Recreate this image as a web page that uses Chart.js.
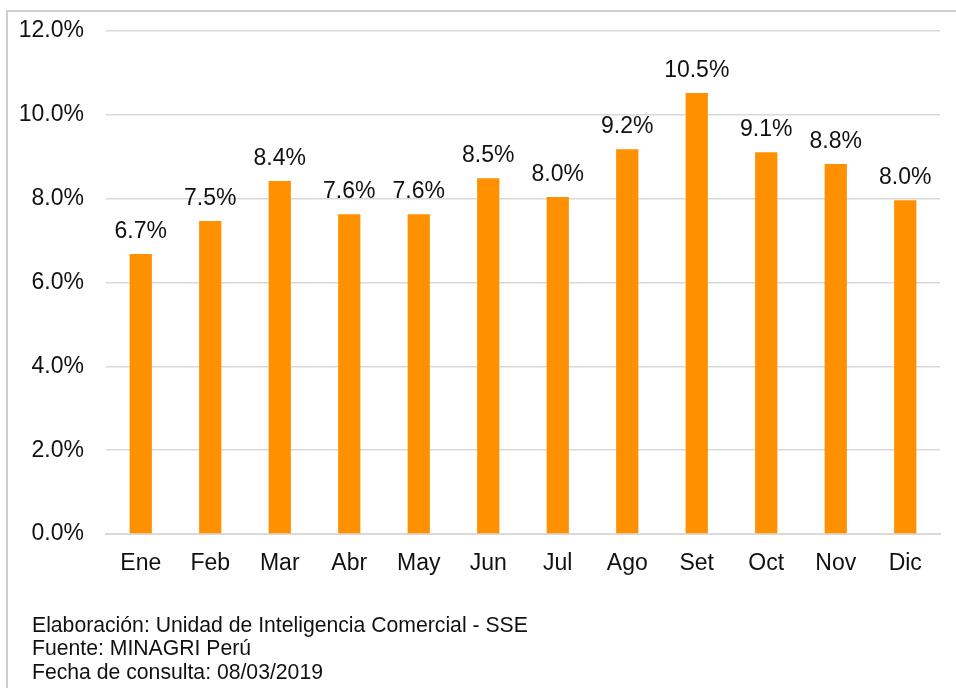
<!DOCTYPE html>
<html>
<head>
<meta charset="utf-8">
<script src="https://cdn.jsdelivr.net/npm/chart.js@4"></script>
<style>
    body { margin: 0; background: #fff; font-family: "Liberation Sans", Arial, sans-serif; }
    #wrap { position: relative; width: 956px; height: 688px; overflow: hidden; }
    #frame { position: absolute; left: 6px; top: 10px; width: 980px; height: 720px; border: 2px solid #cfcfcf; box-sizing: border-box; }
    #chart { position: absolute; left: 0; top: 0; }
    #notes { position: absolute; left: 32px; top: 613px; font-size: 21.2px; line-height: 23.3px; color: #111; }
</style>
</head>
<body>
<div id="wrap">
    <div id="frame"></div>
    <canvas id="chart" width="956" height="688"></canvas>
    <div id="notes">
        <div>Elaboración: Unidad de Inteligencia Comercial - SSE</div>
        <div>Fuente: MINAGRI Perú</div>
        <div>Fecha de consulta: 08/03/2019</div>
    </div>
</div>
<script>
// --- DATA ---
const months = ['Ene', 'Feb', 'Mar', 'Abr', 'May', 'Jun', 'Jul', 'Ago', 'Set', 'Oct', 'Nov', 'Dic'];
const shareValues = [6.68, 7.47, 8.42, 7.63, 7.63, 8.49, 8.04, 9.18, 10.52, 9.11, 8.83, 7.96];
const yTicks = [0, 2, 4, 6, 8, 10, 12];

const FONT = '"Liberation Sans", Arial, sans-serif';
const BAR_COLOR = '#ff9100';

// Value labels above each bar
const valueLabels = {
    id: 'valueLabels',
    afterDatasetsDraw(chart) {
        const ctx = chart.ctx;
        const meta = chart.getDatasetMeta(0);
        ctx.save();
        ctx.font = `23px ${FONT}`;
        ctx.fillStyle = '#111';
        ctx.textAlign = 'center';
        ctx.textBaseline = 'alphabetic';
        meta.data.forEach((bar, i) => {
            ctx.fillText(shareValues[i].toFixed(1) + '%', bar.x, bar.y - 16);
        });
        ctx.restore();
    }
};

new Chart(document.getElementById('chart'), {
    type: 'bar',
    data: {
        labels: months,
        datasets: [{
            data: shareValues,
            backgroundColor: BAR_COLOR,
            borderWidth: 0,
            barPercentage: 0.32,
            categoryPercentage: 1
        }]
    },
    options: {
        responsive: false,
        animation: false,
        layout: { padding: { top: 31, right: 16, bottom: 109, left: 0 } },
        plugins: { legend: { display: false }, tooltip: { enabled: false } },
        scales: {
            x: {
                grid: { display: false, drawTicks: false },
                border: { color: '#d9d9d9', width: 2 },
                ticks: { color: '#111', font: { family: FONT, size: 23 }, padding: 16, maxRotation: 0 },
                afterFit(scale) { scale.height = 45; scale.paddingLeft = 0; scale.paddingRight = 0; }
            },
            y: {
                min: 0,
                max: 12,
                afterBuildTicks(scale) { scale.ticks = yTicks.map(v => ({ value: v })); },
                grid: { color: '#d9d9d9', lineWidth: 1.5, drawTicks: false },
                border: { display: false },
                ticks: {
                    color: '#111',
                    font: { family: FONT, size: 23 },
                    padding: 22,
                    callback: v => v.toFixed(1) + '%'
                },
                afterFit(scale) { scale.width = 106; scale.paddingTop = 0; scale.paddingBottom = 0; }
            }
        }
    },
    plugins: [valueLabels]
});
</script>
</body>
</html>
